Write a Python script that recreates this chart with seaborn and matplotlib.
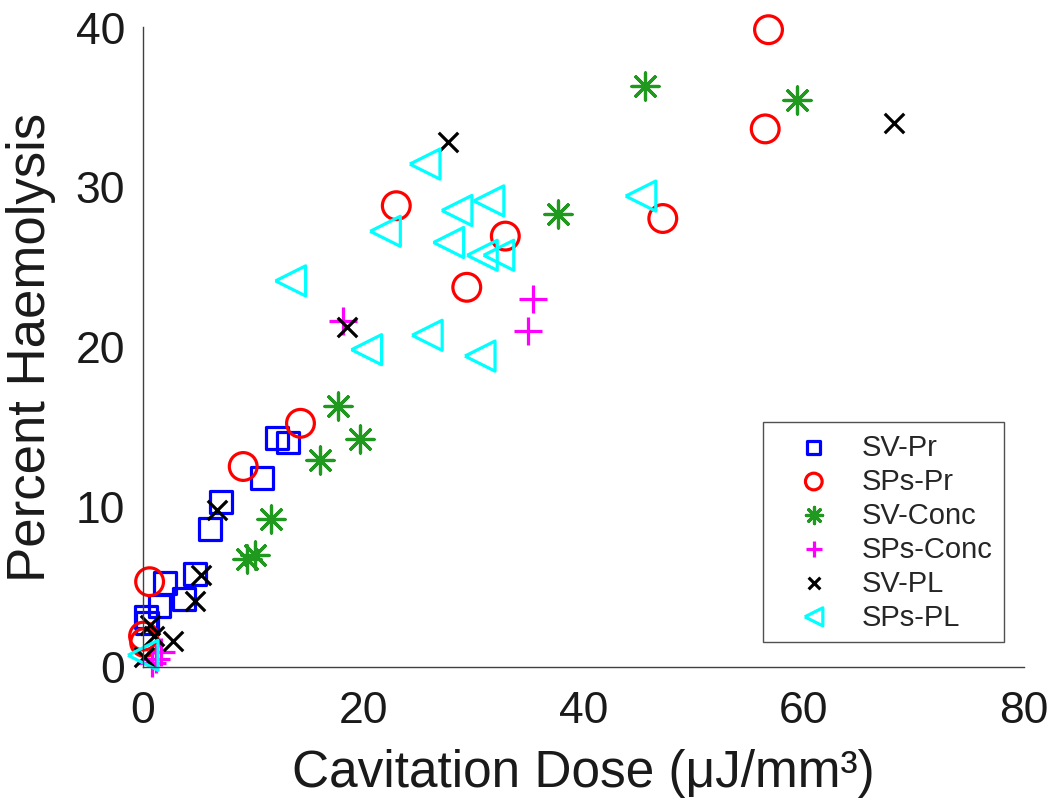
import numpy as np
import pandas as pd
import matplotlib
matplotlib.use("Agg")
import matplotlib.pyplot as plt
import seaborn as sns

# ---- data ----
series_names = ["SV-Pr", "SPs-Pr", "SV-Conc", "SPs-Conc", "SV-PL", "SPs-PL"]

sv_pr_x = [0.3, 0.4, 1.5, 2.0, 3.7, 4.7, 6.1, 7.1, 10.8, 12.2, 13.2]
sv_pr_y = [3.1, 2.7, 3.8, 5.2, 4.2, 5.8, 8.6, 10.3, 11.8, 14.3, 14.0]

sps_pr_x = [56.8, 56.5, 47.2, 32.9, 29.4, 23.0, 14.3, 9.1, 0.6, 0.05, 0.15]
sps_pr_y = [39.8, 33.6, 28.0, 26.9, 23.7, 28.8, 15.2, 12.5, 5.3, 1.9, 1.5]

sv_conc_x = [45.6, 59.4, 37.7, 17.7, 19.7, 16.1, 11.6, 9.4, 10.2]
sv_conc_y = [36.3, 35.4, 28.3, 16.3, 14.2, 12.9, 9.2, 6.7, 7.0]

sps_conc_x = [35.4, 35.0, 18.2, 1.6, 0.8, 1.2]
sps_conc_y = [23.0, 21.0, 21.6, 0.9, 0.2, 0.5]

sv_pl_x = [68.2, 27.7, 18.5, 6.7, 5.3, 4.7, 2.75, 0.6, 0.1, 1.0]
sv_pl_y = [34.0, 32.8, 21.2, 9.8, 5.7, 4.1, 1.6, 2.6, 0.6, 1.9]

sps_pl_x = [45.2, 25.6, 31.4, 28.5, 27.75, 22.0, 13.4, 30.8, 32.3, 25.8, 30.6, 20.3, 0.0]
sps_pl_y = [29.4, 31.4, 29.1, 28.5, 26.5, 27.2, 24.1, 25.7, 25.7, 20.7, 19.4, 19.8, 0.7]

xs = [sv_pr_x, sps_pr_x, sv_conc_x, sps_conc_x, sv_pl_x, sps_pl_x]
ys = [sv_pr_y, sps_pr_y, sv_conc_y, sps_conc_y, sv_pl_y, sps_pl_y]

df = pd.concat(
    [pd.DataFrame({"dose": x, "haem": y, "series": n}) for n, x, y in zip(series_names, xs, ys)],
    ignore_index=True,
)

# ---- styles ----
colors = {"SV-Pr": "#0000ff", "SPs-Pr": "#ff0000", "SV-Conc": "#1f9a1f",
          "SPs-Conc": "#ff00ff", "SV-PL": "#000000", "SPs-PL": "#00ffff"}
tri_left = [(-1, 0), (1, 1), (1, -1), (-1, 0)]
markers = {"SV-Pr": "s", "SPs-Pr": "o", "SV-Conc": (8, 2, 0),
           "SPs-Conc": "+", "SV-PL": "x", "SPs-PL": tri_left}
sizes = {"SV-Pr": 250, "SPs-Pr": 400, "SV-Conc": 380,
         "SPs-Conc": 380, "SV-PL": 196, "SPs-PL": 470}
hollow = {"SV-Pr": True, "SPs-Pr": True, "SV-Conc": False,
          "SPs-Conc": False, "SV-PL": False, "SPs-PL": True}

sns.set_theme(style="white")
plt.rcParams["font.family"] = ["Liberation Sans", "DejaVu Sans"]

fig = plt.figure(figsize=(10.56, 8.04), dpi=100)
ax = fig.add_axes([143 / 1056, 1 - 667.5 / 804, 881 / 1056, (667.5 - 27.5) / 804])

for name in series_names:
    sub = df[df["series"] == name]
    c = colors[name]
    kw = dict(data=sub, x="dose", y="haem", ax=ax, marker=markers[name],
              s=sizes[name], linewidth=2.3, label=name, clip_on=False, legend=False)
    if hollow[name]:
        sns.scatterplot(color=c, facecolor="none", edgecolor=c, **kw)
    else:
        sns.scatterplot(color=c, **kw)

ax.set_xlim(0, 80)
ax.set_ylim(0, 40)
ax.set_xticks([0, 20, 40, 60, 80])
ax.set_yticks([0, 10, 20, 30, 40])

for s in ["top", "right"]:
    ax.spines[s].set_visible(False)
for s in ["left", "bottom"]:
    ax.spines[s].set_color("#404040")
    ax.spines[s].set_linewidth(1.0)

ax.tick_params(axis="both", direction="in", length=6, width=1.0, color="#404040",
               labelsize=32, labelcolor="#1a1a1a")
ax.tick_params(axis="x", pad=17)
ax.tick_params(axis="y", pad=13)

ax.set_xlabel("Cavitation Dose (μJ/mm³)", fontsize=37, color="#1a1a1a", labelpad=12)
ax.set_ylabel("Percent Haemolysis", fontsize=38, color="#1a1a1a", labelpad=14)

leg = ax.legend(loc="lower right", bbox_to_anchor=(0.977, 0.038), fontsize=21,
                markerscale=0.6, frameon=True, fancybox=False, edgecolor="#262626",
                labelspacing=0.2, handletextpad=0.3, borderpad=0.4, handlelength=2.65,
                borderaxespad=0.0)
leg.get_frame().set_linewidth(1.0)

fig.savefig("out.png", dpi=100)
